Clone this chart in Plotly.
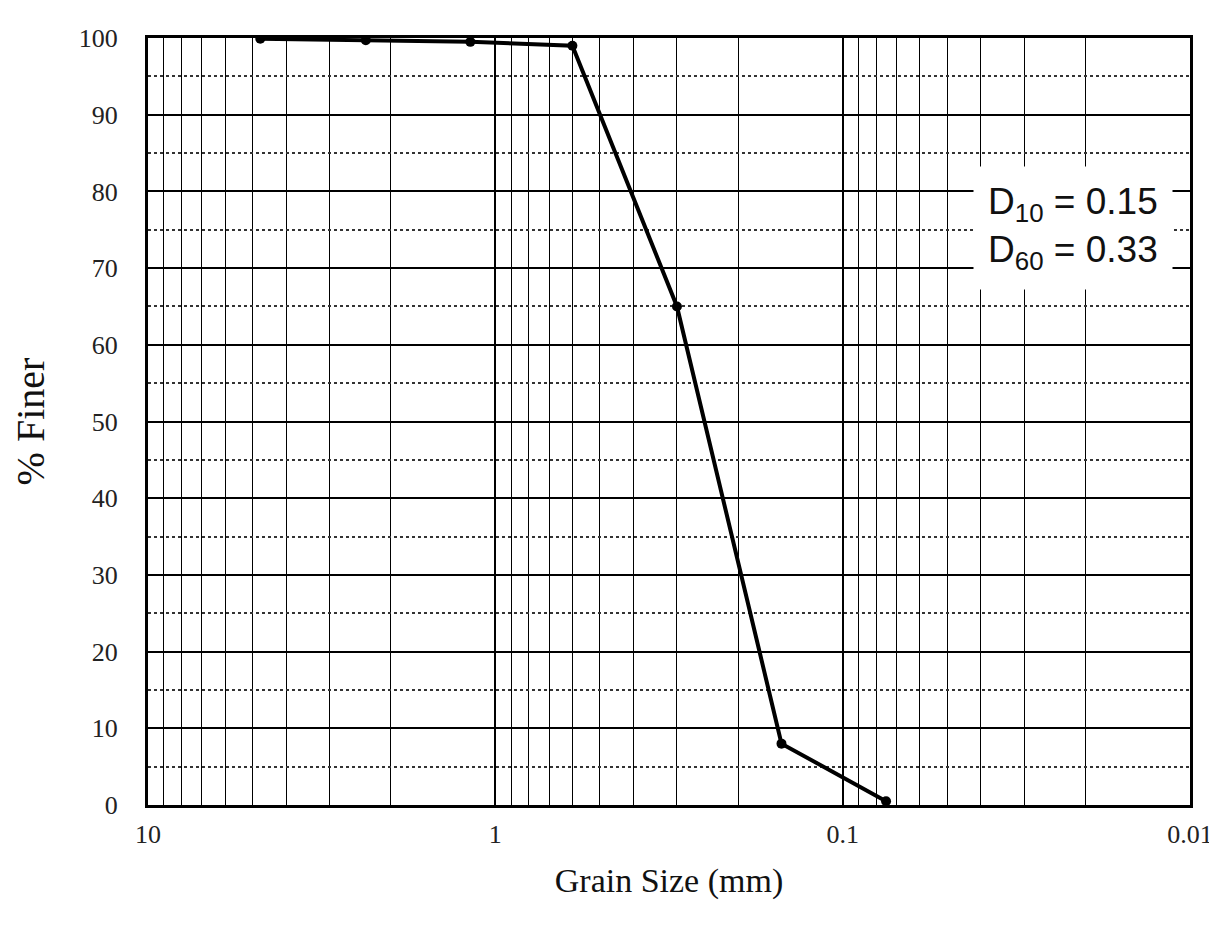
import plotly.graph_objects as go

# Data
grain_size_mm = [4.75, 2.36, 1.18, 0.6, 0.3, 0.15, 0.075]
percent_finer = [99.9, 99.7, 99.5, 99.0, 65.0, 8.0, 0.5]

x_major_ticks = [10, 1, 0.1, 0.01]
x_major_labels = ["10", "1", "0.1", "0.01"]
x_minor_ticks = [m * d for d in [1, 0.1, 0.01] for m in range(2, 10)]
y_major_ticks = [0, 10, 20, 30, 40, 50, 60, 70, 80, 90, 100]
y_minor_ticks = [5, 15, 25, 35, 45, 55, 65, 75, 85, 95]

annot_text = "D<sub>10</sub> = 0.15<br>D<sub>60</sub> = 0.33"

fig = go.Figure()
fig.add_trace(go.Scatter(
    x=grain_size_mm, y=percent_finer, mode="lines+markers",
    line=dict(color="black", width=4),
    marker=dict(color="black", size=10),
    showlegend=False,
))

serif = "Liberation Serif, Times New Roman, serif"

fig.update_xaxes(
    type="log", range=[1, -2],
    tickvals=x_major_ticks, ticktext=x_major_labels,
    showgrid=True, gridcolor="black", gridwidth=1.5,
    minor=dict(tickvals=x_minor_ticks, showgrid=True, gridcolor="black", gridwidth=1.3, ticks=""),
    showline=True, linecolor="black", linewidth=3, mirror=True,
    ticks="", zeroline=False,
    tickfont=dict(family=serif, size=26, color="#222"),
    title=dict(text="Grain Size (mm)", font=dict(family=serif, size=34, color="#111"), standoff=20),
    ticklabelstandoff=4,
)
fig.update_yaxes(
    range=[0, 100],
    tickvals=y_major_ticks,
    showgrid=True, gridcolor="black", gridwidth=1.5,
    minor=dict(tickvals=y_minor_ticks, showgrid=True, gridcolor="#333", gridwidth=1.5, griddash="dot", ticks=""),
    showline=True, linecolor="black", linewidth=3, mirror=True,
    ticks="", zeroline=False,
    tickfont=dict(family=serif, size=26, color="#222"),
    title=dict(text="% Finer", font=dict(family=serif, size=40, color="#111"), standoff=26),
    ticklabelstandoff=22,
)

fig.add_annotation(
    xref="paper", yref="paper", x=0.888, y=0.752,
    xanchor="center", yanchor="middle",
    text=annot_text, showarrow=False, align="left",
    font=dict(family="Liberation Sans, Arial, sans-serif", size=37, color="#111"),
    bgcolor="white", borderpad=14,
)

fig.update_layout(
    width=1217, height=925,
    margin=dict(l=140, r=25, t=30, b=128),
    paper_bgcolor="white", plot_bgcolor="white",
)

fig.write_html("out.html")
